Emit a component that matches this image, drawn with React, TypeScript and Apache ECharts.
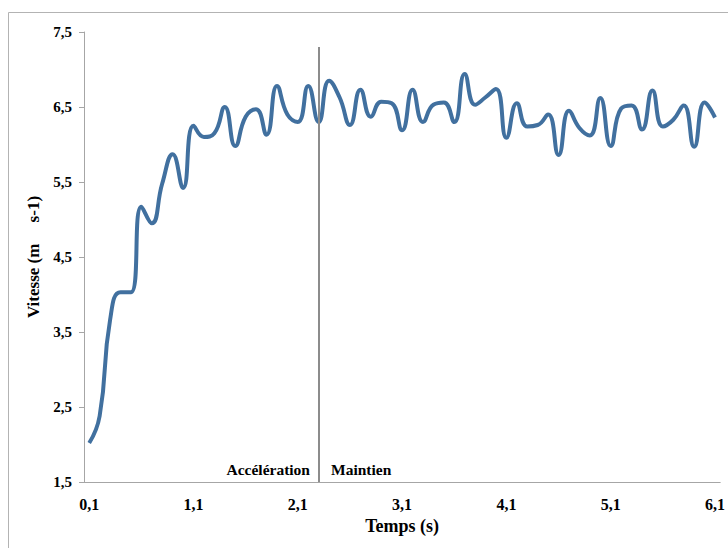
import React, { useEffect, useRef } from "react";
import * as echarts from "echarts";

const times: string[] = Array.from({ length: 61 }, (_, i) => ((i + 1) / 10).toFixed(1).replace(".", ","));

const vitesse: number[] = [
  2.02, 2.38, 3.66, 4.03, 4.03, 5.17, 4.95, 5.48, 5.87, 5.42,
  6.25, 6.1, 6.15, 6.5, 5.98, 6.37, 6.47, 6.13, 6.78, 6.4,
  6.3, 6.78, 6.3, 6.85, 6.63, 6.26, 6.73, 6.37, 6.57, 6.55,
  6.19, 6.73, 6.3, 6.53, 6.56, 6.3, 6.94, 6.53, 6.63, 6.74,
  6.09, 6.55, 6.24, 6.26, 6.4, 5.86, 6.45, 6.22, 6.12, 6.62,
  5.98, 6.48, 6.52, 6.2, 6.72, 6.24, 6.33, 6.52, 5.97, 6.56,
  6.36,
];

const yMin = 1.5;
const yMax = 7.5;
const yInterval = 1;
const phaseSplit = "2,3";
const phaseLineTop = 7.3;
const phaseLabels = ["Accélération", "Maintien"];

const font = "Liberation Serif";

export default function App() {
  const ref = useRef<HTMLDivElement>(null);
  useEffect(() => {
    if (!ref.current) return;
    const chart = echarts.init(ref.current, null, { renderer: "svg" });
    chart.setOption({
      animation: false,
      backgroundColor: "#ffffff",
      grid: { left: 84, right: 6, top: 32, bottom: 66, containLabel: false },
      xAxis: {
        type: "category",
        data: times,
        boundaryGap: true,
        name: "Temps (s)",
        nameLocation: "middle",
        nameGap: 35,
        nameTextStyle: { fontFamily: font, fontWeight: "bold", fontSize: 18, color: "#000" },
        axisLine: { lineStyle: { color: "#a6a6a6", width: 1 } },
        axisTick: { show: false },
        axisLabel: {
          interval: 9,
          margin: 14,
          fontFamily: font,
          fontWeight: "bold",
          fontSize: 16,
          color: "#000",
        },
        splitLine: { show: false },
      },
      yAxis: {
        type: "value",
        min: yMin,
        max: yMax,
        interval: yInterval,
        name: "Vitesse (m     s-1)",
        nameLocation: "middle",
        nameGap: 38,
        nameTextStyle: { fontFamily: font, fontWeight: "bold", fontSize: 17, color: "#000" },
        axisLine: { show: true, lineStyle: { color: "#a6a6a6", width: 1 } },
        axisTick: { show: true, inside: false, length: 5, lineStyle: { color: "#a6a6a6" } },
        axisLabel: {
          margin: 12,
          fontFamily: font,
          fontWeight: "bold",
          fontSize: 15,
          color: "#000",
          formatter: (v: number) => v.toFixed(1).replace(".", ","),
        },
        splitLine: { show: false },
      },
      series: [
        {
          type: "line",
          data: vitesse,
          smooth: 0.5,
          symbol: "none",
          lineStyle: { color: "#41709f", width: 4 },
          markLine: {
            silent: true,
            symbol: ["none", "none"],
            label: { show: false },
            lineStyle: { color: "#8c8c8c", width: 2, type: "solid" },
            data: [[{ coord: [phaseSplit, phaseLineTop] }, { coord: [phaseSplit, yMin] }]],
          },
        },
      ],
      graphic: [
        {
          type: "rect",
          shape: { x: 8.5, y: 12.5, width: 800, height: 700 },
          style: { fill: "none", stroke: "#b3b3b3", lineWidth: 1 },
          silent: true,
        },
        {
          type: "text",
          x: 310,
          y: 469,
          style: {
            text: phaseLabels[0],
            fontFamily: font,
            fontWeight: "bold",
            fontSize: 15.5,
            fill: "#000",
            align: "right",
            verticalAlign: "middle",
          },
        },
        {
          type: "text",
          x: 331,
          y: 469,
          style: {
            text: phaseLabels[1],
            fontFamily: font,
            fontWeight: "bold",
            fontSize: 15.5,
            fill: "#000",
            align: "left",
            verticalAlign: "middle",
          },
        },
      ],
    });
    return () => chart.dispose();
  }, []);
  return (
    <div
      ref={ref}
      style={{ position: "fixed", left: 0, top: 0, width: 728, height: 548 }}
    />
  );
}
